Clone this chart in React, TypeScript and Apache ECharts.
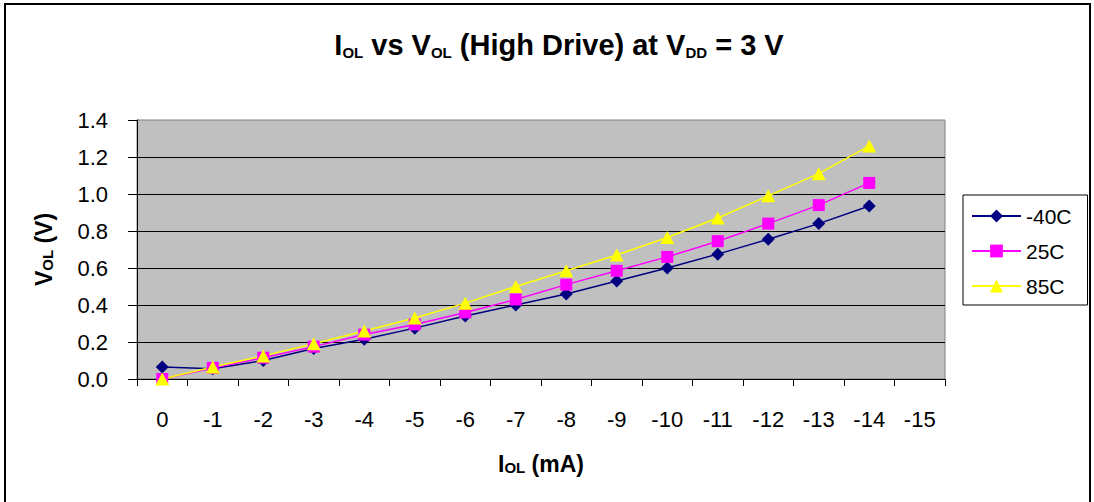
import React, { useEffect, useRef } from "react";
import * as echarts from "echarts";

const categories = ["0", "-1", "-2", "-3", "-4", "-5", "-6", "-7", "-8", "-9", "-10", "-11", "-12", "-13", "-14", "-15"];
const seriesNames = ["-40C", "25C", "85C"];
const valuesM40 = [0.065, 0.055, 0.1, 0.165, 0.215, 0.275, 0.34, 0.4, 0.46, 0.53, 0.6, 0.675, 0.755, 0.84, 0.935];
const values25 = [0.0, 0.06, 0.115, 0.175, 0.24, 0.295, 0.36, 0.43, 0.51, 0.585, 0.66, 0.745, 0.84, 0.94, 1.06];
const values85 = [0.0, 0.065, 0.125, 0.19, 0.26, 0.33, 0.41, 0.5, 0.585, 0.67, 0.765, 0.87, 0.99, 1.11, 1.26];
const yTicks = { min: 0, max: 1.4, interval: 0.2 };

const FONT = "'Liberation Sans', Arial, sans-serif";

export default function App() {
  const ref = useRef<HTMLDivElement>(null);
  useEffect(() => {
    if (!ref.current) return;
    const chart = echarts.init(ref.current, undefined, { renderer: "svg" });
    const mk = (name: string, data: number[], color: string, symbol: string, size: any) => ({
      name,
      type: "line",
      data,
      symbol,
      symbolSize: size,
      itemStyle: { color, borderWidth: 0 },
      lineStyle: { color, width: 1.5 },
    });
    const subRich = (size: number, pad: number) => ({
      fontFamily: FONT,
      fontSize: size,
      fontWeight: "bold",
      color: "#000",
      verticalAlign: "bottom",
      lineHeight: size + 1,
      padding: [0, 0, pad, 0],
    });
    chart.setOption({
      animation: false,
      backgroundColor: "#ffffff",
      textStyle: { fontFamily: FONT, color: "#000" },
      title: {
        text: "{b|I}{s|OL}{b| vs V}{s|OL}{b| (High Drive) at V}{s|DD}{b| = 3 V}",
        left: 554,
        textAlign: "center",
        top: 23,
        textStyle: {
          rich: {
            b: { fontFamily: FONT, fontSize: 29, fontWeight: "bold", color: "#000", lineHeight: 33 },
            s: subRich(15, 1),
          },
        },
      },
      graphic: [
        {
          type: "rect",
          silent: true,
          shape: { x: 5, y: 4, width: 1085, height: 520 },
          style: { fill: "none", stroke: "#000", lineWidth: 2 },
        },
      ],
      legend: {
        orient: "vertical",
        left: 963,
        top: 195,
        data: seriesNames,
        borderColor: "#000",
        borderWidth: 1,
        padding: [9, 16, 7, 8],
        itemGap: 11,
        itemWidth: 49,
        itemHeight: 16,
        backgroundColor: "#fff",
        textStyle: { fontFamily: FONT, fontSize: 21, color: "#000", lineHeight: 24 },
      },
      grid: {
        left: 137,
        top: 120,
        width: 808,
        height: 259,
        show: true,
        backgroundColor: "#C0C0C0",
        borderColor: "#808080",
        borderWidth: 1,
      },
      xAxis: {
        type: "category",
        data: categories,
        boundaryGap: true,
        name: "{b|I}{s|OL}{b| (mA)}",
        nameLocation: "middle",
        nameGap: 72,
        nameTextStyle: {
          rich: {
            b: { fontFamily: FONT, fontSize: 23, fontWeight: "bold", color: "#000", lineHeight: 26 },
            s: subRich(15, 2),
          },
        },
        axisLine: { show: true, lineStyle: { color: "#000", width: 1 } },
        axisTick: { show: true, interval: 0, length: 7, lineStyle: { color: "#000" } },
        axisLabel: { interval: 0, margin: 29, fontFamily: FONT, fontSize: 22, color: "#000" },
        splitLine: { show: false },
      },
      yAxis: {
        type: "value",
        min: yTicks.min,
        max: yTicks.max,
        interval: yTicks.interval,
        name: "{b|V}{s|OL}{b| (V)}",
        nameLocation: "middle",
        nameGap: 80,
        nameTextStyle: {
          rich: {
            b: { fontFamily: FONT, fontSize: 23, fontWeight: "bold", color: "#000", lineHeight: 26 },
            s: subRich(15, 2),
          },
        },
        axisLine: { show: true, lineStyle: { color: "#000", width: 1 } },
        axisTick: { show: true, length: 9, lineStyle: { color: "#000" } },
        axisLabel: {
          margin: 29,
          fontFamily: FONT,
          fontSize: 22,
          color: "#000",
          formatter: (v: number) => v.toFixed(1),
        },
        splitLine: { show: true, showMaxLine: false, lineStyle: { color: "#000", width: 1 } },
      },
      series: [
        mk(seriesNames[0], valuesM40, "#000080", "diamond", 13),
        mk(seriesNames[1], values25, "#FF00FF", "rect", 12),
        mk(seriesNames[2], values85, "#FFFF00", "triangle", [14, 13]),
      ],
    });
    return () => chart.dispose();
  }, []);
  return <div ref={ref} style={{ position: "absolute", left: 0, top: 0, width: 1094, height: 502 }} />;
}
